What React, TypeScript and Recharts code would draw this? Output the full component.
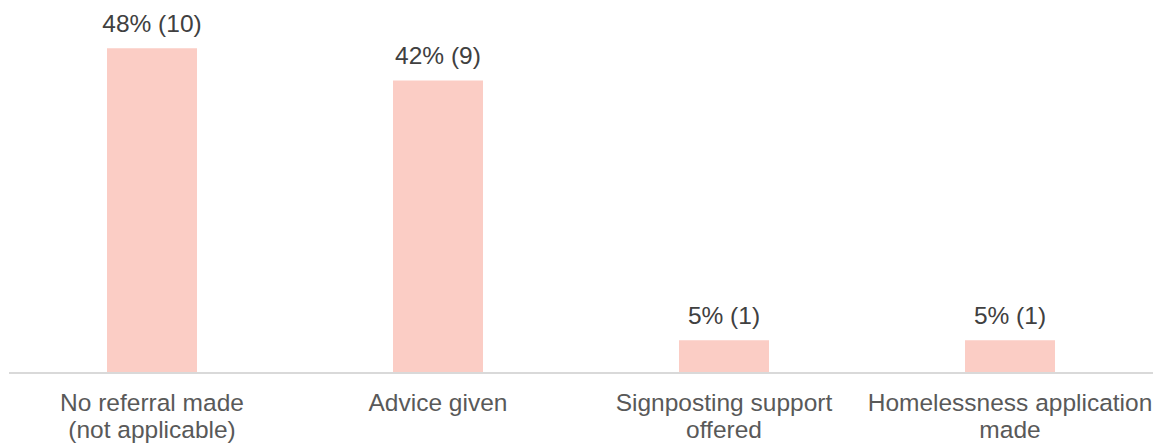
import { Bar, BarChart, LabelList, XAxis, YAxis } from 'recharts';

const categories = [
  'No referral made\n(not applicable)',
  'Advice given',
  'Signposting support\noffered',
  'Homelessness application\nmade',
];
const shares = [47.6, 42.9, 4.8, 4.8];
const percentLabels = ['48%', '42%', '5%', '5%'];
const counts = [10, 9, 1, 1];

const data = categories.map((name, i) => ({
  name,
  value: shares[i],
  label: `${percentLabels[i]} (${counts[i]})`,
}));

const FONT = '"Liberation Sans", Arial, Helvetica, sans-serif';

function CategoryTick({ x, y, payload }: any) {
  const lines = String(payload.value).split('\n');
  return (
    <text x={x} y={y} textAnchor="middle" fill="#595959" fontSize={24.5} fontFamily={FONT}>
      {lines.map((line, i) => (
        <tspan key={i} x={x} dy={i === 0 ? 30 : 27}>
          {line}
        </tspan>
      ))}
    </text>
  );
}

function ValueLabel({ x, y, width, value }: any) {
  return (
    <text
      x={x + width / 2}
      y={y - 16}
      textAnchor="middle"
      fill="#404040"
      fontSize={24.5}
      fontFamily={FONT}
    >
      {value}
    </text>
  );
}

export default function App() {
  return (
    <div style={{ position: 'absolute', left: 0, top: 0, width: 1160, height: 443, background: '#fff' }}>
      <BarChart
        width={1160}
        height={443}
        data={data}
        margin={{ top: 32, right: 7, left: 9, bottom: 0 }}
      >
        <XAxis
          dataKey="name"
          height={70}
          interval={0}
          tickLine={false}
          axisLine={{ stroke: '#d9d9d9', strokeWidth: 2 }}
          tick={<CategoryTick />}
        />
        <YAxis hide domain={[0, 50]} />
        <Bar dataKey="value" fill="#fbcdc5" barSize={90} isAnimationActive={false}>
          <LabelList dataKey="label" content={<ValueLabel />} />
        </Bar>
      </BarChart>
    </div>
  );
}
